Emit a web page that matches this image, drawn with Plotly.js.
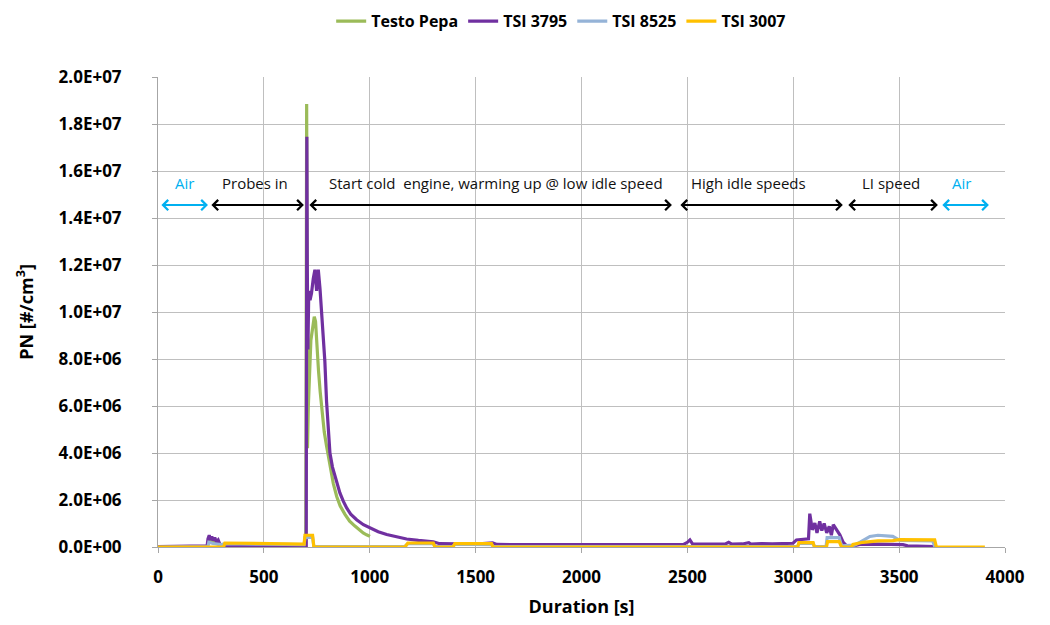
<!DOCTYPE html>
<html>
<head>
<meta charset="utf-8">
<script src="https://cdn.plot.ly/plotly-3.0.1.min.js"></script>
<style>html,body{margin:0;padding:0;background:#fff;}#chart{width:1050px;height:625px;}</style>
</head>
<body>
<div id="chart"></div>
<script>
// ---- data (PN in units of 1e6 #/cm3) ----
const testoTime = [236, 250, 270, 300, 400, 500, 600, 698, 702, 704, 706, 710, 716, 722, 730, 738, 744, 750, 758, 766, 773, 785, 796, 812, 828, 844, 860, 883, 905, 930, 950, 969, 985, 1001];
const testoPN   = [0.3, 0.25, 0.2, 0.06, 0.05, 0.05, 0.05, 0.05, 18.85, 10.0, 4.2, 6.0, 8.0, 8.8, 9.3, 9.8, 9.6, 8.6, 7.5, 6.6, 5.9, 4.9, 4.3, 3.4, 2.7, 2.15, 1.75, 1.39, 1.1, 0.89, 0.72, 0.6, 0.52, 0.45];

const tsi3795Time = [0, 100, 200, 232, 236, 242, 248, 254, 260, 268, 276, 284, 292, 300, 316, 400, 500, 600, 690, 700, 703, 705, 708, 712, 718, 725, 733, 741, 749, 757, 765, 773, 780, 788, 796, 804, 812, 824, 836, 848, 859, 875, 891, 910, 938, 970, 1001, 1040, 1080, 1130, 1174, 1230, 1284, 1300, 1330, 1400, 1500, 1580, 1600, 1700, 1800, 1900, 2000, 2100, 2200, 2300, 2400, 2480, 2500, 2512, 2525, 2600, 2680, 2695, 2710, 2760, 2790, 2800, 2850, 2900, 2950, 2999, 3015, 3047, 3072, 3078, 3090, 3102, 3112, 3125, 3135, 3146, 3158, 3170, 3180, 3189, 3205, 3220, 3236, 3252, 3280, 3314, 3400, 3518, 3540, 3600, 3668];
const tsi3795PN   = [0.02, 0.02, 0.03, 0.05, 0.35, 0.5, 0.3, 0.45, 0.28, 0.4, 0.22, 0.3, 0.12, 0.08, 0.06, 0.05, 0.06, 0.05, 0.04, 0.05, 17.46, 12.0, 8.4, 10.9, 10.5, 10.8, 11.4, 11.8, 10.9, 11.8, 11.0, 10.0, 9.0, 7.9, 6.2, 4.9, 4.0, 3.4, 3.0, 2.6, 2.3, 1.95, 1.66, 1.4, 1.16, 0.95, 0.81, 0.65, 0.53, 0.42, 0.34, 0.28, 0.24, 0.22, 0.14, 0.12, 0.12, 0.18, 0.11, 0.1, 0.1, 0.09, 0.09, 0.08, 0.08, 0.08, 0.09, 0.1, 0.2, 0.3, 0.12, 0.12, 0.13, 0.2, 0.12, 0.13, 0.18, 0.12, 0.15, 0.13, 0.14, 0.16, 0.3, 0.32, 0.35, 1.42, 0.73, 1.02, 0.6, 1.09, 0.7, 1.0, 0.6, 0.88, 0.5, 0.95, 0.73, 0.52, 0.2, 0.05, 0.04, 0.11, 0.12, 0.1, 0.05, 0.03, 0.02];

const tsi8525Time = [0, 236, 240, 260, 300, 316, 500, 690, 694, 730, 736, 1166, 1180, 1300, 1308, 1393, 1402, 1575, 1582, 2000, 2460, 3020, 3027, 3094, 3100, 3155, 3160, 3217, 3228, 3290, 3314, 3340, 3362, 3400, 3440, 3470, 3503, 3600, 3659, 3668];
const tsi8525PN   = [0, 0.02, 0.2, 0.15, 0.1, 0.14, 0.12, 0.1, 0.4, 0.42, 0.02, 0.02, 0.14, 0.14, 0.02, 0.02, 0.12, 0.1, 0.02, 0.02, 0.02, 0.02, 0.15, 0.15, 0.02, 0.02, 0.4, 0.4, 0.05, 0.08, 0.2, 0.35, 0.45, 0.5, 0.48, 0.45, 0.28, 0.27, 0.26, 0.02];

const tsi3007Time = [0, 310, 316, 400, 500, 600, 690, 694, 730, 736, 1166, 1180, 1300, 1308, 1393, 1402, 1575, 1582, 2000, 2500, 3021, 3027, 3094, 3100, 3157, 3162, 3217, 3228, 3275, 3282, 3329, 3400, 3470, 3503, 3600, 3668, 3676, 3905];
const tsi3007PN   = [0, 0, 0.17, 0.16, 0.15, 0.13, 0.12, 0.5, 0.5, 0, 0, 0.17, 0.17, 0, 0, 0.14, 0.14, 0, 0, 0, 0, 0.19, 0.19, 0, 0, 0.23, 0.23, 0, 0, 0.11, 0.2, 0.26, 0.27, 0.31, 0.31, 0.3, 0, 0];

const seriesNames  = ["Testo Pepa", "TSI 3795", "TSI 8525", "TSI 3007"];
const seriesColors = ["#9BBB59", "#7030A0", "#95B3D7", "#FFC000"];

const xTickVals = [0, 500, 1000, 1500, 2000, 2500, 3000, 3500, 4000];
const yTickVals = [0, 2e6, 4e6, 6e6, 8e6, 1e7, 1.2e7, 1.4e7, 1.6e7, 1.8e7, 2e7];
const yTickText = ["0.0E+00", "2.0E+06", "4.0E+06", "6.0E+06", "8.0E+06", "1.0E+07", "1.2E+07", "1.4E+07", "1.6E+07", "1.8E+07", "2.0E+07"];

// phases: label, start, end, label position, colour
const phaseLabels = ["Air", "Probes in", "Start cold  engine, warming up @ low idle speed", "High idle speeds", "LI speed", "Air"];
const phaseStart  = [9, 245, 708, 2460, 3253, 3697];
const phaseEnd    = [236, 689, 2427, 3234, 3683, 3924];
const phaseLabelX = [127, 458, 1596, 2788, 3461, 3796];
const phaseColors = ["#00B0F0", "#000000", "#000000", "#000000", "#000000", "#00B0F0"];
const phaseArrowY = 1.455e7;
const phaseTextY  = 1.55e7;

const scale = 1e6;
const times = [testoTime, tsi3795Time, tsi8525Time, tsi3007Time];
const values = [testoPN, tsi3795PN, tsi8525PN, tsi3007PN];

const traces = seriesNames.map((name, i) => ({
  type: "scatter",
  mode: "lines",
  name: name,
  x: times[i],
  y: values[i].map(v => v * scale),
  line: {color: seriesColors[i], width: 3.2}
}));

const annotations = [];
phaseLabels.forEach((lab, i) => {
  annotations.push({
    x: phaseEnd[i], y: phaseArrowY, xref: "x", yref: "y",
    ax: phaseStart[i], ay: phaseArrowY, axref: "x", ayref: "y",
    text: "", showarrow: true, arrowside: "end+start",
    arrowhead: 4, startarrowhead: 4, arrowsize: 1, startarrowsize: 1,
    arrowwidth: 2, arrowcolor: phaseColors[i], standoff: 0, startstandoff: 0
  });
  annotations.push({
    x: phaseLabelX[i], y: phaseTextY, xref: "x", yref: "y",
    text: lab, showarrow: false,
    font: {family: "Open Sans", size: 15, color: phaseColors[i] === "#000000" ? "#111111" : phaseColors[i]}
  });
});

const layout = {
  width: 1050, height: 625,
  margin: {l: 158, r: 45, t: 77, b: 78, autoexpand: false},
  paper_bgcolor: "#ffffff", plot_bgcolor: "#ffffff",
  font: {family: "Open Sans", color: "#000000"},
  showlegend: true,
  legend: {
    orientation: "h", x: 0.476, xanchor: "center", y: 1.155, yanchor: "top",
    font: {family: "Open Sans", size: 16, weight: "bold", color: "#000000"},
    itemwidth: 30
  },
  xaxis: {
    range: [0, 4000], tickvals: xTickVals, ticktext: xTickVals.map(String),
    showgrid: true, gridcolor: "#BFBFBF", gridwidth: 1,
    showline: true, linecolor: "#A6A6A6", linewidth: 1,
    ticks: "outside", ticklen: 5, tickcolor: "#A6A6A6",
    zeroline: false, ticklabelstandoff: 10,
    tickfont: {family: "Open Sans", size: 17, weight: "bold", color: "#000000"},
    title: {text: "Duration [s]", standoff: 12, font: {family: "Open Sans", size: 18, weight: "bold", color: "#000000"}}
  },
  yaxis: {
    range: [0, 2e7], tickvals: yTickVals, ticktext: yTickText,
    showgrid: true, gridcolor: "#BFBFBF", gridwidth: 1,
    showline: true, linecolor: "#A6A6A6", linewidth: 1,
    ticks: "outside", ticklen: 5, tickcolor: "#A6A6A6",
    zeroline: false, ticklabelstandoff: 27,
    tickfont: {family: "Open Sans", size: 17, weight: "bold", color: "#000000"},
    title: {text: "PN [#/cm<sup>3</sup>]", standoff: 20, font: {family: "Open Sans", size: 18, weight: "bold", color: "#000000"}}
  },
  annotations: annotations
};

Plotly.newPlot("chart", traces, layout, {displayModeBar: false, staticPlot: true});
</script>
</body>
</html>
